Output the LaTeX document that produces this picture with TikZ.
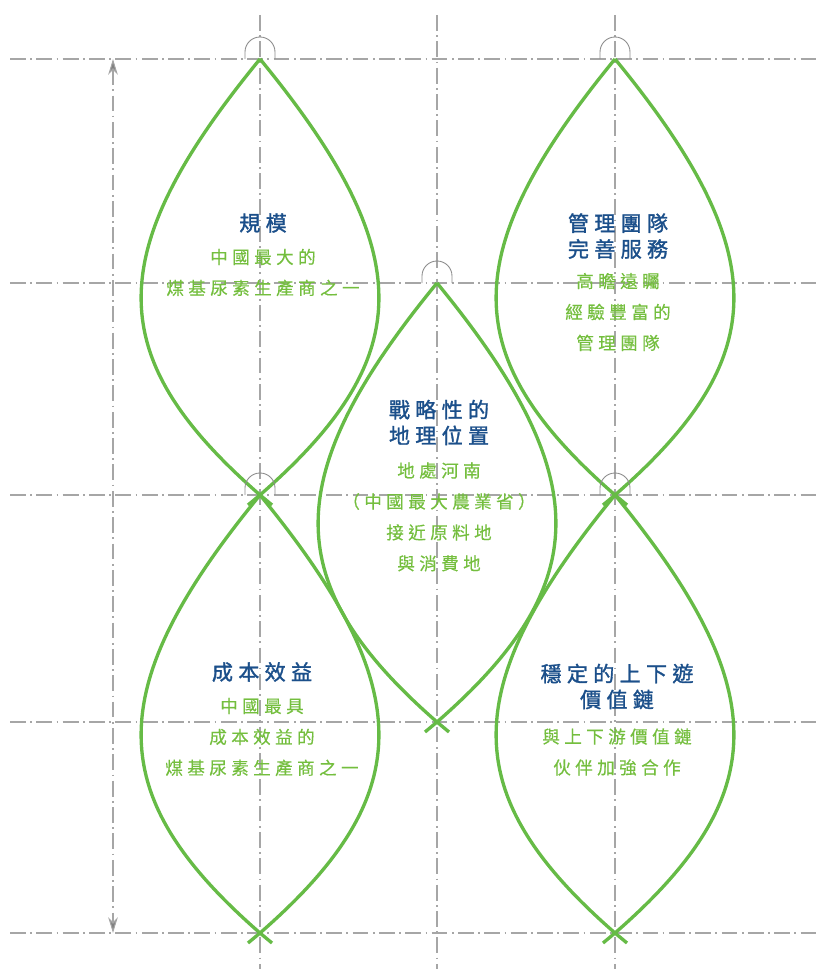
\documentclass[tikz,border=0pt]{standalone}
\usepackage{fontspec}
\newfontfamily\cjk[LetterSpace=25, FakeBold=0.4]{Noto Sans CJK TC}
\newfontfamily\cjkhead[LetterSpace=25, FakeBold=1.4]{Noto Sans CJK TC}
\usetikzlibrary{positioning,arrows.meta}
\definecolor{leafgreen}{HTML}{66BB46}
\definecolor{textgreen}{HTML}{74BE3E}
\definecolor{titleblue}{HTML}{1B4F8A}
\definecolor{guidegray}{HTML}{A6A6A6}
\definecolor{capgray}{HTML}{8C8C8C}

\begin{document}
\begin{tikzpicture}[x=0.02cm, y=-0.02cm,
	guide/.style={guidegray, line width=0.6pt, dash pattern=on 9pt off 2.5pt on 1pt off 2.5pt},
	tipcap/.style={capgray, line width=0.5pt},
	leaf/.style={leafgreen, line width=1.9pt},
	title/.style={titleblue, font=\cjkhead\fontsize{12pt}{14.7pt}\selectfont, align=center, inner sep=0pt},
	body/.style={textgreen, font=\cjk\fontsize{10pt}{17.6pt}\selectfont, align=center, inner sep=0pt}]

\useasboundingbox (0,0) rectangle (816,969);

% guide lines
\foreach \y in {59,283,495,722,933}{
	\draw[guide] (10,\y) -- (816,\y);
}
\foreach \x in {260,437,615}{
	\draw[guide] (\x,15) -- (\x,969);
}

\coordinate (dimtop) at (113,59);
\coordinate (dimbot) at (113,933);
\draw[guide, {Stealth[length=9pt,width=5.5pt,fill=gray]}-{Stealth[length=9pt,width=5.5pt,fill=gray]}] (dimtop) -- (dimbot);

% leaves
\foreach [count=\i] \x\t\b in {
	260/59/495
	,615/59/495
	,437/283/722
	,260/495/933
	,615/495/933
}{
	\coordinate (top\i) at (\x,\t);
	\coordinate (bot\i) at (\x,\b);
	\draw[tipcap] (top\i) ++(-15,0) -- ++(0,-7) arc[start angle=180, end angle=360, radius=15] -- ++(0,7);
	\draw[leaf] (top\i) .. controls +(-160,195) and +(-157,-137) .. (bot\i) -- +(12,10);
	\draw[leaf] (top\i) .. controls +(160,195) and +(157,-137) .. (bot\i) -- +(-12,10);
}

% texts
\node[title] (t1) at (263,223) {規模};
\node[body] (b1) at (263,272.5) {中國最大的\\煤基尿素生產商之一};

\node[title] (t2) at (618,236) {管理團隊\\完善服務};
\node[body] (b2) at (618,312) {高瞻遠矚\\經驗豐富的\\管理團隊};

\node[title] (t3) at (439,422.5) {戰略性的\\地理位置};
\node[body] (b3) at (439,517) {地處河南\\（中國最大農業省）\\接近原料地\\與消費地};

\node[title] (t4) at (262,672) {成本效益};
\node[body] (b4) at (262,737) {中國最具\\成本效益的\\煤基尿素生產商之一};

\node[title] (t5) at (617,686.5) {穩定的上下遊\\價值鏈};
\node[body] (b5) at (617,752) {與上下游價值鏈\\伙伴加強合作};

\end{tikzpicture}
\end{document}
